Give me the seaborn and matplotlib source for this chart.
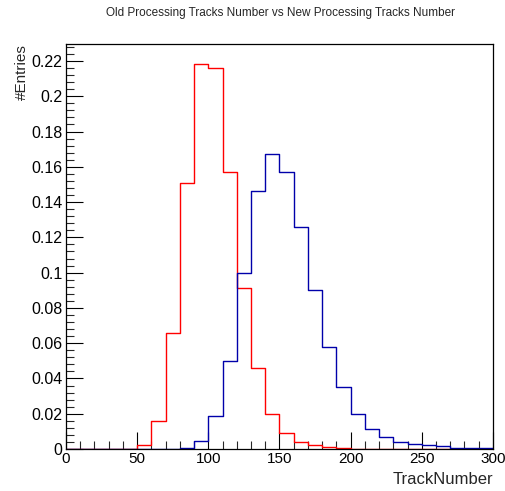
import numpy as np
import pandas as pd
import matplotlib
matplotlib.use("Agg")
import matplotlib.pyplot as plt
import seaborn as sns
from matplotlib.ticker import MultipleLocator

# bin edges: 0..300 step 10
bin_left = list(range(0, 300, 10))
old_tracks = [0, 0, 0, 0, 0, 0.002, 0.016, 0.066, 0.151, 0.218,
              0.216, 0.157, 0.091, 0.046, 0.020, 0.009, 0.004, 0.002, 0.001, 0.0005,
              0, 0, 0, 0, 0, 0, 0, 0, 0, 0]
new_tracks = [0, 0, 0, 0, 0, 0, 0, 0, 0.0005, 0.0047,
              0.019, 0.050, 0.100, 0.146, 0.167, 0.157, 0.126, 0.090, 0.058, 0.035,
              0.020, 0.0115, 0.0066, 0.0042, 0.0027, 0.002, 0.0015, 0.0008, 0.0008, 0.0005]

centers = [b + 5 for b in bin_left]
df = pd.DataFrame({"TrackNumber": centers * 2,
                   "w": old_tracks + new_tracks,
                   "proc": ["old"] * 30 + ["new"] * 30})

sns.set_style("ticks")
plt.rcParams["font.family"] = ["Liberation Sans", "DejaVu Sans"]

fig = plt.figure(figsize=(5.05, 4.91), dpi=100)
ax = fig.add_axes([0.1307, 0.0855, 0.976 - 0.1307, 0.910 - 0.0855])

sns.histplot(data=df[df.proc == "old"], x="TrackNumber", weights="w",
             binwidth=10, binrange=(0, 300),
             element="step", fill=False, color="#ff0000", linewidth=1.0, ax=ax)
sns.histplot(data=df[df.proc == "new"], x="TrackNumber", weights="w",
             binwidth=10, binrange=(0, 300),
             element="step", fill=False, color="#0000aa", linewidth=1.0, ax=ax)

ax.set_xlim(0, 300)
ax.set_ylim(0, 0.2295)
ax.xaxis.set_major_locator(MultipleLocator(50))
ax.xaxis.set_minor_locator(MultipleLocator(10))
ax.yaxis.set_minor_locator(MultipleLocator(0.004))
ax.set_yticks(np.arange(0, 0.23, 0.02))
ax.set_yticklabels(["0"] + ["%g" % v for v in np.arange(0.02, 0.23, 0.02)])
ax.tick_params(which="major", direction="in", length=12, width=0.8, labelsize=11.5,
               top=False, right=False, pad=2.5, colors="black")
ax.tick_params(axis="x", labelsize=11)
ax.tick_params(which="minor", direction="in", length=6, width=0.8, top=False, right=False)
for s in ax.spines.values():
    s.set_linewidth(0.9)
    s.set_color("black")

ax.set_xlabel("TrackNumber", loc="right", fontsize=12, labelpad=4)
ax.set_ylabel("#Entries", fontsize=11, ha="right")
ax.yaxis.set_label_coords(-0.088, 1.0)
fig.text(0.555, 0.974, "Old Processing Tracks Number vs New Processing Tracks Number",
         ha="center", va="center", fontsize=8.5)

fig.savefig("out.png", dpi=100)
